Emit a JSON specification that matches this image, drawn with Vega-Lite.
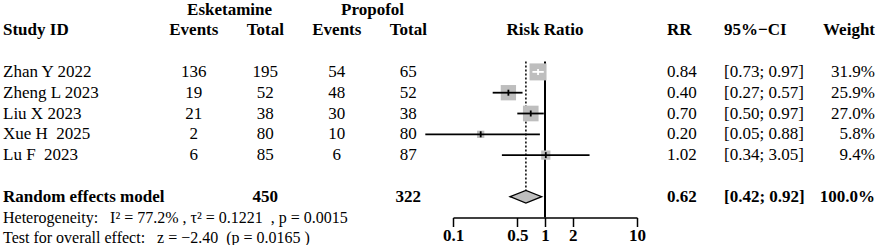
{
  "$schema": "https://vega.github.io/schema/vega-lite/v6.json",
  "padding": {"left": 3, "top": 0, "right": 0, "bottom": 0},
  "autosize": {"type": "pad"},
  "spacing": 0,
  "bounds": "flush",
  "background": "white",
  "config": {
    "view": {"stroke": null},
    "font": "Liberation Serif",
    "text": {"font": "Liberation Serif", "color": "black", "fontSize": 17, "baseline": "middle"}
  },
  "datasets": {
    "studies": [
      {"study": "Zhan Y 2022", "e_events": 136, "e_total": 195, "p_events": 54, "p_total": 65, "rr": 0.84, "lower": 0.73, "upper": 0.97, "weight": 31.9},
      {"study": "Zheng L 2023", "e_events": 19, "e_total": 52, "p_events": 48, "p_total": 52, "rr": 0.40, "lower": 0.27, "upper": 0.57, "weight": 25.9},
      {"study": "Liu X 2023", "e_events": 21, "e_total": 38, "p_events": 30, "p_total": 38, "rr": 0.70, "lower": 0.50, "upper": 0.97, "weight": 27.0},
      {"study": "Xue H\u00a0\u00a02025", "e_events": 2, "e_total": 80, "p_events": 10, "p_total": 80, "rr": 0.20, "lower": 0.05, "upper": 0.88, "weight": 5.8},
      {"study": "Lu F\u00a0\u00a02023", "e_events": 6, "e_total": 85, "p_events": 6, "p_total": 87, "rr": 1.02, "lower": 0.34, "upper": 3.05, "weight": 9.4}
    ],
    "pooled": [
      {"study": "Random effects model", "e_total": 450, "p_total": 322, "rr": 0.62, "lower": 0.42, "upper": 0.92, "weight": 100.0}
    ]
  },
  "hconcat": [
    {
      "width": 164,
      "height": {"step": 10.4},
      "layer": [
        {
          "data": {"values": [{"line": "header", "label": "Study ID"}, {"line": "Random effects model", "label": "Random effects model"}]},
          "mark": {"type": "text", "align": "left", "fontWeight": "bold"},
          "encoding": {
            "x": {"datum": "id", "type": "nominal", "scale": {"type": "point", "domain": ["id"], "align": 0}, "axis": null},
            "y": {"field": "line", "type": "nominal", "axis": null, "scale": {"type": "point", "round": false, "padding": 0.4087, "align": 1, "domain": ["group","_1","header","_3","_4","top","Zhan Y 2022","_7","Zheng L 2023","_9","Liu X 2023","_11","Xue H\u00a0\u00a02025","_13","Lu F\u00a0\u00a02023","_15","_16","_17","Random effects model","_19","het","_21","test"]}},
            "text": {"field": "label"}
          }
        },
        {
          "data": {"name": "studies"},
          "mark": {"type": "text", "align": "left"},
          "encoding": {
            "x": {"datum": "id", "type": "nominal", "scale": {"type": "point", "domain": ["id"], "align": 0}, "axis": null},
            "y": {"field": "study", "type": "nominal", "axis": null, "scale": {"type": "point", "round": false, "padding": 0.4087, "align": 1, "domain": ["group","_1","header","_3","_4","top","Zhan Y 2022","_7","Zheng L 2023","_9","Liu X 2023","_11","Xue H\u00a0\u00a02025","_13","Lu F\u00a0\u00a02023","_15","_16","_17","Random effects model","_19","het","_21","test"]}},
            "text": {"field": "study"}
          }
        },
        {
          "data": {"values": [
            {"line": "het", "label": "Heterogeneity:\u00a0\u00a0 I\u00b2 = 77.2%\u00a0, \u03c4\u00b2 = 0.1221\u00a0\u00a0, p = 0.0015"},
            {"line": "test", "label": "Test for overall effect:\u00a0\u00a0 z = \u22122.40\u00a0 (p = 0.0165 )"}
          ]},
          "mark": {"type": "text", "align": "left", "fontSize": 16},
          "encoding": {
            "x": {"datum": "id", "type": "nominal", "scale": {"type": "point", "domain": ["id"], "align": 0}, "axis": null},
            "y": {"field": "line", "type": "nominal", "axis": null, "scale": {"type": "point", "round": false, "padding": 0.4087, "align": 1, "domain": ["group","_1","header","_3","_4","top","Zhan Y 2022","_7","Zheng L 2023","_9","Liu X 2023","_11","Xue H\u00a0\u00a02025","_13","Lu F\u00a0\u00a02023","_15","_16","_17","Random effects model","_19","het","_21","test"]}},
            "text": {"field": "label"}
          }
        }
      ]
    },
    {
      "width": 286,
      "height": {"step": 10.4},
      "layer": [
        {
          "data": {"values": [
            {"col": "esk", "line": "group", "label": "Esketamine"},
            {"col": "prop", "line": "group", "label": "Propofol"},
            {"col": "e_events", "line": "header", "label": "Events"},
            {"col": "e_total", "line": "header", "label": "Total"},
            {"col": "p_events", "line": "header", "label": "Events"},
            {"col": "p_total", "line": "header", "label": "Total"}
          ]},
          "mark": {"type": "text", "fontWeight": "bold"},
          "encoding": {
            "x": {"field": "col", "type": "nominal", "axis": null, "scale": {"type": "point", "round": false, "padding": 1.3333, "align": 0.375, "domain": ["e_events", "esk", "e_total", "gap", "p_events", "prop", "p_total"]}},
            "y": {"field": "line", "type": "nominal", "axis": null, "scale": {"type": "point", "round": false, "padding": 0.4087, "align": 1, "domain": ["group","_1","header","_3","_4","top","Zhan Y 2022","_7","Zheng L 2023","_9","Liu X 2023","_11","Xue H\u00a0\u00a02025","_13","Lu F\u00a0\u00a02023","_15","_16","_17","Random effects model","_19","het","_21","test"]}},
            "text": {"field": "label"}
          }
        },
        {
          "data": {"name": "studies"},
          "transform": [{"fold": ["e_events", "e_total", "p_events", "p_total"], "as": ["col", "value"]}],
          "mark": {"type": "text"},
          "encoding": {
            "x": {"field": "col", "type": "nominal", "axis": null, "scale": {"type": "point", "round": false, "padding": 1.3333, "align": 0.375, "domain": ["e_events", "esk", "e_total", "gap", "p_events", "prop", "p_total"]}},
            "y": {"field": "study", "type": "nominal", "axis": null, "scale": {"type": "point", "round": false, "padding": 0.4087, "align": 1, "domain": ["group","_1","header","_3","_4","top","Zhan Y 2022","_7","Zheng L 2023","_9","Liu X 2023","_11","Xue H\u00a0\u00a02025","_13","Lu F\u00a0\u00a02023","_15","_16","_17","Random effects model","_19","het","_21","test"]}},
            "text": {"field": "value", "type": "nominal"}
          }
        },
        {
          "data": {"name": "pooled"},
          "transform": [{"fold": ["e_total", "p_total"], "as": ["col", "value"]}],
          "mark": {"type": "text", "fontWeight": "bold"},
          "encoding": {
            "x": {"field": "col", "type": "nominal", "axis": null, "scale": {"type": "point", "round": false, "padding": 1.3333, "align": 0.375, "domain": ["e_events", "esk", "e_total", "gap", "p_events", "prop", "p_total"]}},
            "y": {"field": "study", "type": "nominal", "axis": null, "scale": {"type": "point", "round": false, "padding": 0.4087, "align": 1, "domain": ["group","_1","header","_3","_4","top","Zhan Y 2022","_7","Zheng L 2023","_9","Liu X 2023","_11","Xue H\u00a0\u00a02025","_13","Lu F\u00a0\u00a02023","_15","_16","_17","Random effects model","_19","het","_21","test"]}},
            "text": {"field": "value", "type": "nominal"}
          }
        }
      ]
    },
    {
      "width": 184,
      "height": {"step": 10.4},
      "layer": [
        {
          "data": {"values": [{"line": "header", "label": "Risk Ratio"}]},
          "mark": {"type": "text", "fontWeight": "bold"},
          "encoding": {
            "y": {"field": "line", "type": "nominal", "axis": null, "scale": {"type": "point", "round": false, "padding": 0.4087, "align": 1, "domain": ["group","_1","header","_3","_4","top","Zhan Y 2022","_7","Zheng L 2023","_9","Liu X 2023","_11","Xue H\u00a0\u00a02025","_13","Lu F\u00a0\u00a02023","_15","_16","_17","Random effects model","_19","het"]}},
            "text": {"field": "label"}
          }
        },
        {
          "data": {"values": [{"ref": 1, "line": "top"}, {"ref": 1, "line": "het"}]},
          "mark": {"type": "line", "color": "black", "strokeWidth": 2},
          "encoding": {
            "x": {"field": "ref", "type": "quantitative", "scale": {"type": "log", "domain": [0.1, 10], "nice": false, "zero": false}, "axis": {"values": [0.1, 0.5, 1, 2, 10], "format": "~g", "title": null, "grid": false, "labelFont": "Liberation Serif", "labelFontWeight": "bold", "labelFontSize": 17, "labelColor": "black", "labelPadding": 1, "labelFlush": false, "labelOverlap": false, "labelBound": false, "tickColor": "black", "tickSize": 9, "tickWidth": 1.5, "domainColor": "black", "domainWidth": 1.5}},
            "y": {"field": "line", "type": "nominal", "axis": null, "scale": {"type": "point", "round": false, "padding": 0.4087, "align": 1, "domain": ["group","_1","header","_3","_4","top","Zhan Y 2022","_7","Zheng L 2023","_9","Liu X 2023","_11","Xue H\u00a0\u00a02025","_13","Lu F\u00a0\u00a02023","_15","_16","_17","Random effects model","_19","het"]}}
          }
        },
        {
          "data": {"name": "pooled"},
          "transform": [{"calculate": "'top'", "as": "from"}, {"fold": ["from", "study"], "as": ["end", "line"]}],
          "mark": {"type": "line", "color": "black", "strokeWidth": 1.5, "strokeDash": [2, 2]},
          "encoding": {
            "x": {"field": "rr", "type": "quantitative", "scale": {"type": "log", "domain": [0.1, 10], "nice": false, "zero": false}, "axis": {"values": [0.1, 0.5, 1, 2, 10], "format": "~g", "title": null, "grid": false, "labelFont": "Liberation Serif", "labelFontWeight": "bold", "labelFontSize": 17, "labelColor": "black", "labelPadding": 1, "labelFlush": false, "labelOverlap": false, "labelBound": false, "tickColor": "black", "tickSize": 9, "tickWidth": 1.5, "domainColor": "black", "domainWidth": 1.5}},
            "y": {"field": "line", "type": "nominal", "axis": null, "scale": {"type": "point", "round": false, "padding": 0.4087, "align": 1, "domain": ["group","_1","header","_3","_4","top","Zhan Y 2022","_7","Zheng L 2023","_9","Liu X 2023","_11","Xue H\u00a0\u00a02025","_13","Lu F\u00a0\u00a02023","_15","_16","_17","Random effects model","_19","het"]}}
          }
        },
        {
          "data": {"name": "studies"},
          "mark": {"type": "point", "shape": "square", "filled": true, "color": "#BEBEBE", "opacity": 1, "strokeWidth": 0},
          "encoding": {
            "x": {"field": "rr", "type": "quantitative", "scale": {"type": "log", "domain": [0.1, 10], "nice": false, "zero": false}, "axis": {"values": [0.1, 0.5, 1, 2, 10], "format": "~g", "title": null, "grid": false, "labelFont": "Liberation Serif", "labelFontWeight": "bold", "labelFontSize": 17, "labelColor": "black", "labelPadding": 1, "labelFlush": false, "labelOverlap": false, "labelBound": false, "tickColor": "black", "tickSize": 9, "tickWidth": 1.5, "domainColor": "black", "domainWidth": 1.5}},
            "y": {"field": "study", "type": "nominal", "axis": null, "scale": {"type": "point", "round": false, "padding": 0.4087, "align": 1, "domain": ["group","_1","header","_3","_4","top","Zhan Y 2022","_7","Zheng L 2023","_9","Liu X 2023","_11","Xue H\u00a0\u00a02025","_13","Lu F\u00a0\u00a02023","_15","_16","_17","Random effects model","_19","het"]}},
            "size": {"field": "weight", "type": "quantitative", "scale": {"type": "linear", "domain": [0, 31.9], "range": [0, 289], "zero": true}, "legend": null}
          }
        },
        {
          "data": {"name": "studies"},
          "mark": {"type": "rule", "strokeWidth": 1.8},
          "encoding": {
            "x": {"field": "lower", "type": "quantitative", "scale": {"type": "log", "domain": [0.1, 10], "nice": false, "zero": false}, "axis": {"values": [0.1, 0.5, 1, 2, 10], "format": "~g", "title": null, "grid": false, "labelFont": "Liberation Serif", "labelFontWeight": "bold", "labelFontSize": 17, "labelColor": "black", "labelPadding": 1, "labelFlush": false, "labelOverlap": false, "labelBound": false, "tickColor": "black", "tickSize": 9, "tickWidth": 1.5, "domainColor": "black", "domainWidth": 1.5}},
            "x2": {"field": "upper"},
            "y": {"field": "study", "type": "nominal", "axis": null, "scale": {"type": "point", "round": false, "padding": 0.4087, "align": 1, "domain": ["group","_1","header","_3","_4","top","Zhan Y 2022","_7","Zheng L 2023","_9","Liu X 2023","_11","Xue H\u00a0\u00a02025","_13","Lu F\u00a0\u00a02023","_15","_16","_17","Random effects model","_19","het"]}},
            "color": {"condition": {"test": "datum.study === 'Zhan Y 2022'", "value": "white"}, "value": "black"}
          }
        },
        {
          "data": {"name": "studies"},
          "mark": {"type": "tick", "size": 6, "thickness": 1.8, "opacity": 1},
          "encoding": {
            "x": {"field": "rr", "type": "quantitative", "scale": {"type": "log", "domain": [0.1, 10], "nice": false, "zero": false}, "axis": {"values": [0.1, 0.5, 1, 2, 10], "format": "~g", "title": null, "grid": false, "labelFont": "Liberation Serif", "labelFontWeight": "bold", "labelFontSize": 17, "labelColor": "black", "labelPadding": 1, "labelFlush": false, "labelOverlap": false, "labelBound": false, "tickColor": "black", "tickSize": 9, "tickWidth": 1.5, "domainColor": "black", "domainWidth": 1.5}},
            "y": {"field": "study", "type": "nominal", "axis": null, "scale": {"type": "point", "round": false, "padding": 0.4087, "align": 1, "domain": ["group","_1","header","_3","_4","top","Zhan Y 2022","_7","Zheng L 2023","_9","Liu X 2023","_11","Xue H\u00a0\u00a02025","_13","Lu F\u00a0\u00a02023","_15","_16","_17","Random effects model","_19","het"]}},
            "color": {"condition": {"test": "datum.study === 'Zhan Y 2022'", "value": "white"}, "value": "black"}
          }
        },
        {
          "data": {"name": "pooled"},
          "mark": {"type": "point", "shape": "M-1,0L0,-0.4L1,0L0,0.4Z", "size": 1000, "filled": true, "fill": "#BEBEBE", "stroke": "black", "strokeWidth": 1.3, "opacity": 1},
          "encoding": {
            "x": {"field": "rr", "type": "quantitative", "scale": {"type": "log", "domain": [0.1, 10], "nice": false, "zero": false}, "axis": {"values": [0.1, 0.5, 1, 2, 10], "format": "~g", "title": null, "grid": false, "labelFont": "Liberation Serif", "labelFontWeight": "bold", "labelFontSize": 17, "labelColor": "black", "labelPadding": 1, "labelFlush": false, "labelOverlap": false, "labelBound": false, "tickColor": "black", "tickSize": 9, "tickWidth": 1.5, "domainColor": "black", "domainWidth": 1.5}},
            "y": {"field": "study", "type": "nominal", "axis": null, "scale": {"type": "point", "round": false, "padding": 0.4087, "align": 1, "domain": ["group","_1","header","_3","_4","top","Zhan Y 2022","_7","Zheng L 2023","_9","Liu X 2023","_11","Xue H\u00a0\u00a02025","_13","Lu F\u00a0\u00a02023","_15","_16","_17","Random effects model","_19","het"]}}
          }
        }
      ]
    },
    {
      "width": 60,
      "height": {"step": 10.4},
      "layer": [
        {
          "data": {"values": [{"line": "header", "label": "RR"}]},
          "mark": {"type": "text", "align": "left", "fontWeight": "bold"},
          "encoding": {
            "y": {"field": "line", "type": "nominal", "axis": null, "scale": {"type": "point", "round": false, "padding": 0.4087, "align": 1, "domain": ["group","_1","header","_3","_4","top","Zhan Y 2022","_7","Zheng L 2023","_9","Liu X 2023","_11","Xue H\u00a0\u00a02025","_13","Lu F\u00a0\u00a02023","_15","_16","_17","Random effects model","_19","het","_21","test"]}},
            "text": {"field": "label"}
          }
        },
        {
          "data": {"name": "studies"},
          "mark": {"type": "text", "align": "left"},
          "encoding": {
            "y": {"field": "study", "type": "nominal", "axis": null, "scale": {"type": "point", "round": false, "padding": 0.4087, "align": 1, "domain": ["group","_1","header","_3","_4","top","Zhan Y 2022","_7","Zheng L 2023","_9","Liu X 2023","_11","Xue H\u00a0\u00a02025","_13","Lu F\u00a0\u00a02023","_15","_16","_17","Random effects model","_19","het","_21","test"]}},
            "text": {"field": "rr", "type": "quantitative", "format": ".2f"}
          }
        },
        {
          "data": {"name": "pooled"},
          "mark": {"type": "text", "align": "left", "fontWeight": "bold"},
          "encoding": {
            "y": {"field": "study", "type": "nominal", "axis": null, "scale": {"type": "point", "round": false, "padding": 0.4087, "align": 1, "domain": ["group","_1","header","_3","_4","top","Zhan Y 2022","_7","Zheng L 2023","_9","Liu X 2023","_11","Xue H\u00a0\u00a02025","_13","Lu F\u00a0\u00a02023","_15","_16","_17","Random effects model","_19","het","_21","test"]}},
            "text": {"field": "rr", "type": "quantitative", "format": ".2f"}
          }
        }
      ]
    },
    {
      "width": 54,
      "height": {"step": 10.4},
      "layer": [
        {
          "data": {"values": [{"line": "header", "label": "95%\u2212CI"}]},
          "mark": {"type": "text", "align": "left", "fontWeight": "bold"},
          "encoding": {
            "y": {"field": "line", "type": "nominal", "axis": null, "scale": {"type": "point", "round": false, "padding": 0.4087, "align": 1, "domain": ["group","_1","header","_3","_4","top","Zhan Y 2022","_7","Zheng L 2023","_9","Liu X 2023","_11","Xue H\u00a0\u00a02025","_13","Lu F\u00a0\u00a02023","_15","_16","_17","Random effects model","_19","het","_21","test"]}},
            "text": {"field": "label"}
          }
        },
        {
          "data": {"name": "studies"},
          "transform": [{"calculate": "'[' + format(datum.lower, '.2f') + '; ' + format(datum.upper, '.2f') + ']'", "as": "ci"}],
          "mark": {"type": "text", "align": "left"},
          "encoding": {
            "y": {"field": "study", "type": "nominal", "axis": null, "scale": {"type": "point", "round": false, "padding": 0.4087, "align": 1, "domain": ["group","_1","header","_3","_4","top","Zhan Y 2022","_7","Zheng L 2023","_9","Liu X 2023","_11","Xue H\u00a0\u00a02025","_13","Lu F\u00a0\u00a02023","_15","_16","_17","Random effects model","_19","het","_21","test"]}},
            "text": {"field": "ci"}
          }
        },
        {
          "data": {"name": "pooled"},
          "transform": [{"calculate": "'[' + format(datum.lower, '.2f') + '; ' + format(datum.upper, '.2f') + ']'", "as": "ci"}],
          "mark": {"type": "text", "align": "left", "fontWeight": "bold"},
          "encoding": {
            "y": {"field": "study", "type": "nominal", "axis": null, "scale": {"type": "point", "round": false, "padding": 0.4087, "align": 1, "domain": ["group","_1","header","_3","_4","top","Zhan Y 2022","_7","Zheng L 2023","_9","Liu X 2023","_11","Xue H\u00a0\u00a02025","_13","Lu F\u00a0\u00a02023","_15","_16","_17","Random effects model","_19","het","_21","test"]}},
            "text": {"field": "ci"}
          }
        }
      ]
    },
    {
      "width": 124,
      "height": {"step": 10.4},
      "layer": [
        {
          "data": {"values": [{"line": "header", "label": "Weight"}]},
          "mark": {"type": "text", "align": "right", "fontWeight": "bold"},
          "encoding": {
            "x": {"datum": "w", "type": "nominal", "scale": {"type": "point", "domain": ["w"], "align": 1}, "axis": null},
            "y": {"field": "line", "type": "nominal", "axis": null, "scale": {"type": "point", "round": false, "padding": 0.4087, "align": 1, "domain": ["group","_1","header","_3","_4","top","Zhan Y 2022","_7","Zheng L 2023","_9","Liu X 2023","_11","Xue H\u00a0\u00a02025","_13","Lu F\u00a0\u00a02023","_15","_16","_17","Random effects model","_19","het","_21","test"]}},
            "text": {"field": "label"}
          }
        },
        {
          "data": {"name": "studies"},
          "transform": [{"calculate": "format(datum.weight, '.1f') + '%'", "as": "wlabel"}],
          "mark": {"type": "text", "align": "right"},
          "encoding": {
            "x": {"datum": "w", "type": "nominal", "scale": {"type": "point", "domain": ["w"], "align": 1}, "axis": null},
            "y": {"field": "study", "type": "nominal", "axis": null, "scale": {"type": "point", "round": false, "padding": 0.4087, "align": 1, "domain": ["group","_1","header","_3","_4","top","Zhan Y 2022","_7","Zheng L 2023","_9","Liu X 2023","_11","Xue H\u00a0\u00a02025","_13","Lu F\u00a0\u00a02023","_15","_16","_17","Random effects model","_19","het","_21","test"]}},
            "text": {"field": "wlabel"}
          }
        },
        {
          "data": {"name": "pooled"},
          "transform": [{"calculate": "format(datum.weight, '.1f') + '%'", "as": "wlabel"}],
          "mark": {"type": "text", "align": "right", "fontWeight": "bold"},
          "encoding": {
            "x": {"datum": "w", "type": "nominal", "scale": {"type": "point", "domain": ["w"], "align": 1}, "axis": null},
            "y": {"field": "study", "type": "nominal", "axis": null, "scale": {"type": "point", "round": false, "padding": 0.4087, "align": 1, "domain": ["group","_1","header","_3","_4","top","Zhan Y 2022","_7","Zheng L 2023","_9","Liu X 2023","_11","Xue H\u00a0\u00a02025","_13","Lu F\u00a0\u00a02023","_15","_16","_17","Random effects model","_19","het","_21","test"]}},
            "text": {"field": "wlabel"}
          }
        }
      ]
    }
  ]
}
